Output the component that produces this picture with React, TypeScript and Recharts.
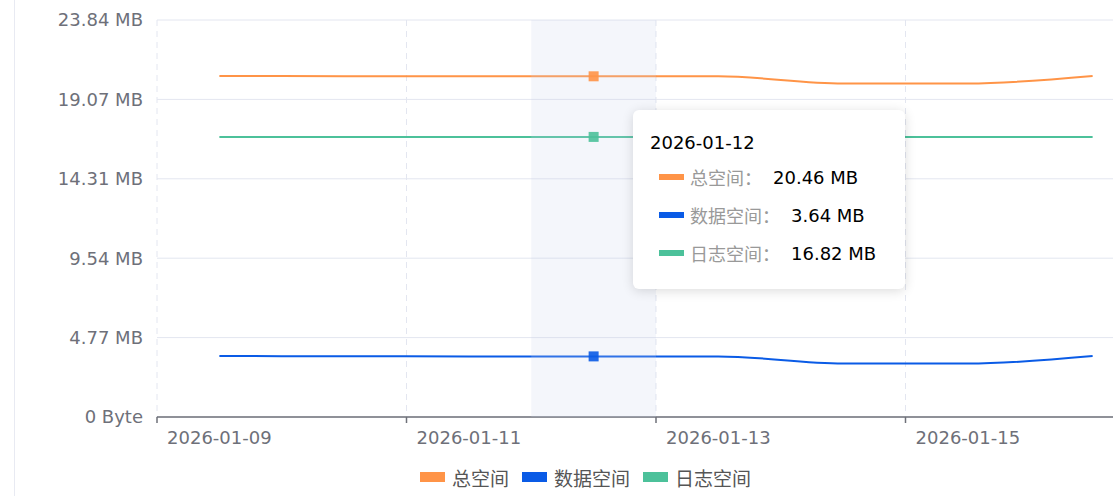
import { LineChart, Line, XAxis, YAxis, CartesianGrid, Tooltip, Legend } from 'recharts';

const dates = [
  '2026-01-09',
  '2026-01-10',
  '2026-01-11',
  '2026-01-12',
  '2026-01-13',
  '2026-01-14',
  '2026-01-15',
  '2026-01-16',
];
// values in MB (MiB)
const totalMB = [20.48, 20.47, 20.46, 20.46, 20.46, 20.03, 20.03, 20.48];
const dataMB = [3.66, 3.65, 3.64, 3.64, 3.64, 3.21, 3.21, 3.66];
const logMB = [16.82, 16.82, 16.82, 16.82, 16.82, 16.82, 16.82, 16.82];
// y ticks in bytes
const yTicks = [0, 5000000, 10000000, 15000000, 20000000, 25000000];

const series = [
  { key: 'total', name: '总空间', color: '#FF9447' },
  { key: 'data', name: '数据空间', color: '#0A5BE6' },
  { key: 'log', name: '日志空间', color: '#4CC19A' },
];

const MB = 1048576;
const rows = dates.map((d, i) => ({
  date: d,
  total: totalMB[i] * MB,
  data: dataMB[i] * MB,
  log: logMB[i] * MB,
}));

const FONT = '"DejaVu Sans", "Noto Sans CJK SC", sans-serif';
const CHART_W = 1180;
const CHART_H = 496;
const MARGIN = { top: 20, right: 25, bottom: 4, left: 0 };
const Y_AXIS_W = 157;
const BAND = (CHART_W - MARGIN.left - MARGIN.right - Y_AXIS_W) / dates.length;

const formatBytes = (v: number) => (v === 0 ? '0 Byte' : `${(v / MB).toFixed(2)} MB`);

const DateTick = (props: any) => {
  const { x, y, payload } = props;
  const axisY = y - 8;
  return (
    <g>
      <line x1={x - BAND / 2} x2={x - BAND / 2} y1={axisY} y2={axisY + 6} stroke="#6e7079" strokeWidth={1.5} />
      <text x={x} y={y} dy={19} textAnchor="middle" fill="#6e7079" fontSize={18} fontFamily={FONT}>
        {payload.value}
      </text>
    </g>
  );
};

const BandCursor = (props: any) => {
  const { points, top, height, width } = props;
  if (!points || !points.length) return null;
  const bw = width / dates.length;
  return <rect x={points[0].x - bw / 2} y={top} width={bw} height={height} fill="#C8D0EA" fillOpacity={0.2} />;
};

const SquareDot = (props: any) => {
  const { cx, cy, fill } = props;
  if (cx == null || cy == null) return null;
  return <rect x={cx - 5} y={cy - 5} width={10} height={10} fill={fill} fillOpacity={0.9} />;
};

const CustomTooltip = ({ active, payload, label }: any) => {
  if (!active || !payload || !payload.length) return null;
  return (
    <div
      style={{
        background: '#fff',
        borderRadius: 6,
        boxShadow: '0 2px 12px rgba(0,0,0,0.14)',
        padding: '22px 24px 17px 17px',
        minWidth: 272,
        boxSizing: 'border-box',
        fontFamily: FONT,
        fontSize: 18,
        whiteSpace: 'nowrap',
      }}
    >
      <div style={{ color: '#000', lineHeight: '22px', height: 22 }}>{label}</div>
      <div style={{ marginTop: 4 }}>
        {payload.map((item: any) => (
          <div key={item.dataKey} style={{ display: 'flex', alignItems: 'center', height: 38, paddingLeft: 9 }}>
            <span style={{ display: 'inline-block', width: 25, height: 6, background: item.color, marginRight: 6 }} />
            <span style={{ color: '#999' }}>{item.name}：</span>
            <span style={{ color: '#000', marginLeft: 11 }}>{formatBytes(item.value)}</span>
          </div>
        ))}
      </div>
    </div>
  );
};

const LegendContent = () => (
  <div style={{ display: 'flex', justifyContent: 'center', alignItems: 'center', height: 30, fontFamily: FONT }}>
    {series.map((s) => (
      <div key={s.key} style={{ display: 'flex', alignItems: 'center', marginRight: 13 }}>
        <span style={{ display: 'inline-block', width: 25, height: 10, background: s.color, marginRight: 7 }} />
        <span style={{ fontSize: 19, color: '#555' }}>{s.name}</span>
      </div>
    ))}
  </div>
);

export default function App() {
  return (
    <div
      style={{
        position: 'fixed',
        left: 0,
        top: 0,
        width: 1113,
        height: 496,
        overflow: 'hidden',
        background: '#fff',
      }}
    >
      <div style={{ position: 'absolute', left: 14, top: 0, width: 1, height: 496, background: '#E8EAF2' }} />
      <LineChart width={CHART_W} height={CHART_H} data={rows} margin={MARGIN} style={{ fontFamily: FONT }}>
        <CartesianGrid vertical={false} stroke="#E3E6F0" />
        <CartesianGrid
          horizontal={false}
          stroke="#E3E6F0"
          strokeDasharray="6 5"
          verticalCoordinatesGenerator={({ offset }: any) =>
            [0, 2, 4, 6, 8].map((k) => offset.left + (k * offset.width) / dates.length)
          }
        />
        <XAxis
          dataKey="date"
          interval={1}
          height={45}
          padding={{ left: BAND / 2, right: BAND / 2 }}
          tickLine={false}
          axisLine={{ stroke: '#6e7079', strokeWidth: 1.5 }}
          tick={<DateTick />}
        />
        <YAxis
          width={Y_AXIS_W}
          domain={[0, 25000000]}
          ticks={yTicks}
          tickFormatter={formatBytes}
          axisLine={false}
          tickLine={false}
          tickMargin={8}
          tick={{ fill: '#6e7079', fontSize: 18, fontFamily: FONT }}
        />
        <Tooltip
          active
          defaultIndex={3}
          position={{ x: 633, y: 110 }}
          cursor={<BandCursor />}
          content={<CustomTooltip />}
          isAnimationActive={false}
          wrapperStyle={{ outline: 'none' }}
        />
        <Legend
          verticalAlign="bottom"
          content={<LegendContent />}
          wrapperStyle={{ left: 0, width: 1184, bottom: 4 }}
        />
        {series.map((s) => (
          <Line
            key={s.key}
            type="monotone"
            dataKey={s.key}
            name={s.name}
            stroke={s.color}
            strokeWidth={2}
            dot={false}
            activeDot={<SquareDot />}
            isAnimationActive={false}
          />
        ))}
      </LineChart>
    </div>
  );
}
